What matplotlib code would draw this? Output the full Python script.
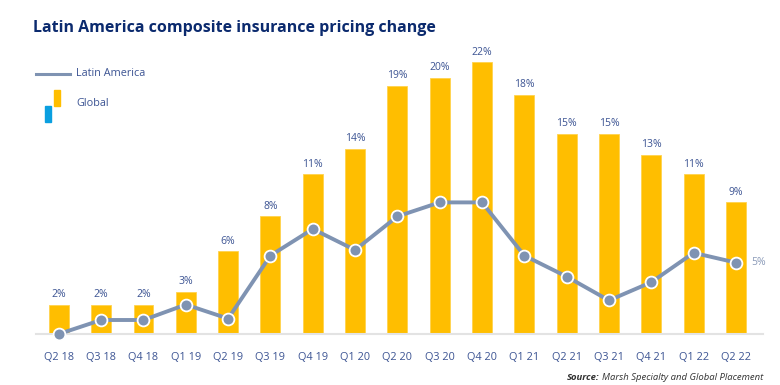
import matplotlib
matplotlib.use("Agg")
import matplotlib.pyplot as plt
from matplotlib.lines import Line2D
from matplotlib.patches import Rectangle
import numpy as np

#----------------------------------------------------------------------------------------#
# Data (in the chart's own % scale)

quarters = ["Q2 18", "Q3 18", "Q4 18", "Q1 19", "Q2 19", "Q3 19", "Q4 19", "Q1 20", "Q2 20",
            "Q3 20", "Q4 20", "Q1 21", "Q2 21", "Q3 21", "Q4 21", "Q1 22", "Q2 22"]
global_vals = [2.1, 2.1, 2.1, 3.0, 5.9, 8.4, 11.4, 13.2, 17.7,
               18.3, 19.4, 17.1, 14.3, 14.3, 12.8, 11.4, 9.4]
global_labels = ["2%", "2%", "2%", "3%", "6%", "8%", "11%", "14%", "19%",
                 "20%", "22%", "18%", "15%", "15%", "13%", "11%", "9%"]
latam_vals = [0.0, 1.0, 1.0, 2.1, 1.1, 5.6, 7.5, 6.0, 8.4,
              9.4, 9.4, 5.6, 4.1, 2.4, 3.7, 5.8, 5.1]
latam_last_label = "5%"

#----------------------------------------------------------------------------------------#
# Style

yellow = "#FFBE00"
slate = "#7F93B2"
navy = "#0B2A6E"
label_blue = "#3C5493"
plt.rcParams['font.family'] = ['Open Sans', 'DejaVu Sans']

fig = plt.figure(figsize=(7.8, 3.85), dpi=100)
ax = fig.add_axes([36/780, 51/385, 727/780, 280/385])

x = np.arange(len(quarters))
ax.bar(x, global_vals, width=0.47, color=yellow, edgecolor="#FFD34D", linewidth=0.6, zorder=2)
ax.plot(x, latam_vals, color=slate, lw=2.8, marker="o", ms=8.5, mfc=slate,
        mec="white", mew=1.3, zorder=3, clip_on=False)

for xi, v, lab in zip(x, global_vals, global_labels):
    ax.annotate(lab, (xi, v), xytext=(0, 3.5), textcoords="offset points",
                ha="center", va="bottom", fontsize=7.5, color=label_blue)
ax.annotate(latam_last_label, (x[-1], latam_vals[-1]), xytext=(11, 0), textcoords="offset points",
            ha="left", va="center", fontsize=7.5, color="#8A9AB8")

ax.set_xlim(-0.54, len(quarters) - 0.36)
ax.set_ylim(0, 20)
ax.set_xticks(x)
ax.set_xticklabels(quarters, fontsize=7.8, color=label_blue)
ax.tick_params(axis="x", length=0, pad=13)
ax.set_yticks([])
for s in ["top", "right", "left"]:
    ax.spines[s].set_visible(False)
ax.spines["bottom"].set_color("#E3E3E3")
ax.spines["bottom"].set_linewidth(1.5)

#----------------------------------------------------------------------------------------#
# Title, legend, source

fig.text(33/780, 1 - 28/385, "Latin America composite insurance pricing change",
         fontsize=11.5, fontweight="bold", color=navy, va="center", ha="left")

fig.add_artist(Line2D([36/780, 70/780], [1 - 74/385, 1 - 74/385], color=slate, lw=2.2))
fig.text(76/780, 1 - 74/385, "Latin America", fontsize=7.8, color=label_blue, va="center")
fig.add_artist(Rectangle((54/780, 1 - 106/385), 6/780, 16/385, color=yellow))
fig.add_artist(Rectangle((45/780, 1 - 122/385), 6/780, 16/385, color="#0A9FE0"))
fig.text(76/780, 1 - 104/385, "Global", fontsize=7.8, color=label_blue, va="center")

src = fig.text(763/780, 1 - 377/385, "Marsh Specialty and Global Placement", fontsize=6.8,
               style="italic", color="#333333", ha="right", va="center")
fig.canvas.draw()
bb = src.get_window_extent()
fig.text(bb.x0 / 780 - 2/780, 1 - 377/385, "Source:", fontsize=6.8, fontweight="bold",
         style="italic", color="#333333", ha="right", va="center")

fig.savefig("out.png", dpi=100)
